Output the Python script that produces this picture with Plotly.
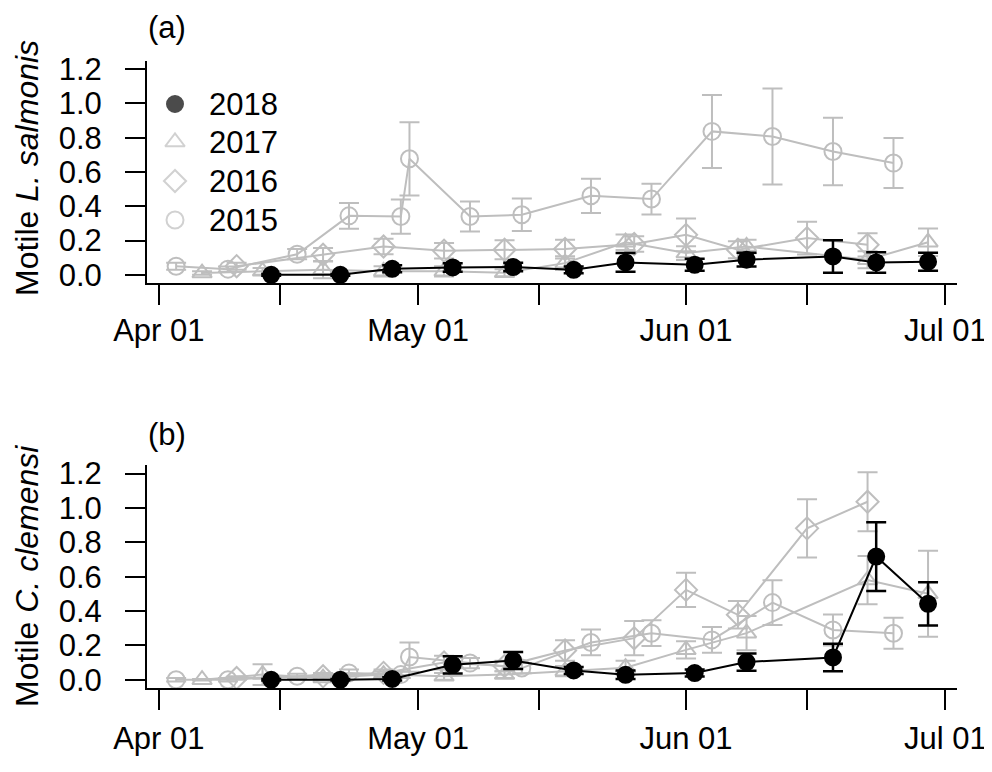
import plotly.graph_objects as go

# ---------------- data ----------------
# dates are month-day of each sampling event (all years mapped to one season axis)
dates_2018 = ["04-14", "04-22", "04-28", "05-05", "05-12", "05-19", "05-25", "06-02", "06-08", "06-18", "06-23", "06-29"]
dates_2017 = ["04-06", "04-13", "04-20", "04-27", "05-04", "05-11", "05-18", "05-25", "06-01", "06-08", "06-22", "06-29"]
dates_2016 = ["04-10", "04-20", "04-27", "05-04", "05-11", "05-18", "05-26", "06-01", "06-07", "06-15", "06-22"]
dates_2015 = ["04-03", "04-09", "04-17", "04-23", "04-29", "04-30", "05-07", "05-13", "05-21", "05-28", "06-04", "06-11", "06-18", "06-25"]

# (a) motile L. salmonis
ls_2018 = [0.00, 0.00, 0.035, 0.043, 0.045, 0.029, 0.072, 0.058, 0.088, 0.107, 0.072, 0.076]
ls_2018_se = [0.005, 0.005, 0.02, 0.025, 0.025, 0.02, 0.055, 0.035, 0.04, 0.095, 0.06, 0.053]
ls_2017 = [0.01, 0.02, 0.03, 0.02, 0.02, 0.012, 0.068, 0.19, 0.127, 0.165, 0.088, 0.19]
ls_2017_se = [0.01, 0.02, 0.05, 0.03, 0.03, 0.02, 0.04, 0.045, 0.04, 0.04, 0.05, 0.08]
ls_2016 = [0.05, 0.117, 0.165, 0.14, 0.146, 0.15, 0.18, 0.233, 0.146, 0.214, 0.175]
ls_2016_se = [0.02, 0.04, 0.045, 0.045, 0.055, 0.055, 0.045, 0.095, 0.05, 0.095, 0.068]
ls_2015 = [0.05, 0.033, 0.12, 0.344, 0.34, 0.677, 0.34, 0.35, 0.461, 0.442, 0.837, 0.807, 0.72, 0.652]
ls_2015_se = [0.02, 0.015, 0.03, 0.075, 0.1, 0.214, 0.088, 0.095, 0.1, 0.09, 0.213, 0.28, 0.197, 0.146]

# (b) motile C. clemensi
cc_2018 = [0.0, 0.0, 0.005, 0.087, 0.112, 0.054, 0.029, 0.039, 0.103, 0.13, 0.717, 0.442]
cc_2018_se = [0.005, 0.005, 0.01, 0.05, 0.05, 0.02, 0.025, 0.02, 0.05, 0.08, 0.2, 0.126]
cc_2017 = [0.0, 0.03, 0.01, 0.03, 0.02, 0.03, 0.05, 0.07, 0.174, 0.271, 0.58, 0.5]
cc_2017_se = [0.005, 0.06, 0.01, 0.02, 0.02, 0.02, 0.03, 0.04, 0.05, 0.1, 0.14, 0.25]
cc_2016 = [0.01, 0.02, 0.04, 0.1, 0.08, 0.17, 0.242, 0.523, 0.378, 0.881, 1.036]
cc_2016_se = [0.01, 0.02, 0.02, 0.04, 0.03, 0.06, 0.1, 0.1, 0.08, 0.17, 0.172]
cc_2015 = [0.0, 0.0, 0.02, 0.04, 0.03, 0.132, 0.097, 0.068, 0.217, 0.271, 0.232, 0.449, 0.29, 0.271]
cc_2015_se = [0.01, 0.01, 0.015, 0.02, 0.02, 0.085, 0.03, 0.03, 0.075, 0.075, 0.075, 0.13, 0.09, 0.09]

tick_dates = ["04-01", "04-15", "05-01", "05-15", "06-01", "06-15", "07-01"]
tick_text = ["Apr 01", "", "May 01", "", "Jun 01", "", "Jul 01"]
y_ticks = [0.0, 0.2, 0.4, 0.6, 0.8, 1.0, 1.2]
legend_years = ["2018", "2017", "2016", "2015"]

# ---------------- style ----------------
OFF = 8                      # the page body margin shifts the figure by 8 px
W, H = 992 - OFF, 772 - OFF
GRAY = "#BEBEBE"
FONT = "Liberation Sans, Arial, sans-serif"
FS = 31

def px_x(x):
    return (x - OFF) / W

def px_y(y):
    return 1 - (y - OFF) / H

def season(md_list):
    return ["2018-" + md for md in md_list]

styles = {
    "2018": dict(color="black", symbol="circle", fill="black"),
    "2017": dict(color=GRAY, symbol="triangle-up-open", fill=GRAY),
    "2016": dict(color=GRAY, symbol="diamond-open", fill=GRAY),
    "2015": dict(color=GRAY, symbol="circle-open", fill=GRAY),
}
sizes = {"2018": 16, "2017": 17, "2016": 17, "2015": 17}

fig = go.Figure()

def add_series(year, dates, vals, se, xa, ya):
    st = styles[year]
    fig.add_trace(go.Scatter(
        x=season(dates), y=vals, xaxis=xa, yaxis=ya, mode="lines+markers",
        line=dict(color=st["color"], width=2),
        marker=dict(symbol=st["symbol"], size=sizes[year], color=st["fill"],
                    line=dict(color=st["color"], width=2)),
        error_y=dict(type="data", array=se, visible=True, color=st["color"],
                     thickness=2 if year != "2018" else 2.5, width=10),
        showlegend=False, hoverinfo="skip",
    ))

panels = [
    ("x", "y", [("2015", dates_2015, ls_2015, ls_2015_se), ("2016", dates_2016, ls_2016, ls_2016_se),
                ("2017", dates_2017, ls_2017, ls_2017_se), ("2018", dates_2018, ls_2018, ls_2018_se)]),
    ("x2", "y2", [("2015", dates_2015, cc_2015, cc_2015_se), ("2016", dates_2016, cc_2016, cc_2016_se),
                  ("2017", dates_2017, cc_2017, cc_2017_se), ("2018", dates_2018, cc_2018, cc_2018_se)]),
]
for xa, ya, series in panels:
    for year, dts, vals, se in series:
        add_series(year, dts, vals, se, xa, ya)

# legend markers on a pixel-coordinate overlay axis
leg_y = [104, 142, 181, 220]
fig.add_trace(go.Scatter(
    x=[175] * 4, y=leg_y, xaxis="x3", yaxis="y3", mode="markers",
    marker=dict(symbol=[styles[y]["symbol"] for y in legend_years],
                size=[sizes[y] for y in legend_years],
                color=[styles[y]["fill"] for y in legend_years],
                line=dict(color=[styles[y]["color"] for y in legend_years], width=2)),
    showlegend=False, hoverinfo="skip",
))

x_dom = [px_x(147), px_x(957)]
xrange = ["2018-03-30 15:07", "2018-07-02 08:24"]
yrange = [-0.048, 1.248]

def xaxis(anchor, standoff):
    return dict(domain=x_dom, range=xrange, type="date", anchor=anchor, automargin=False,
                tickvals=season(tick_dates), ticktext=tick_text,
                ticks="outside", ticklen=20, tickwidth=2, tickcolor="black",
                showline=True, linecolor="black", linewidth=2,
                showgrid=False, zeroline=False, ticklabelstandoff=standoff,
                tickfont=dict(family=FONT, size=FS, color="black"))

def yaxis(anchor, dom, standoff):
    return dict(domain=dom, range=yrange, anchor=anchor, automargin=False,
                tickvals=y_ticks, ticktext=[f"{v:.1f}" for v in y_ticks],
                ticks="outside", ticklen=20, tickwidth=2, tickcolor="black",
                showline=True, linecolor="black", linewidth=2,
                showgrid=False, zeroline=False, ticklabelstandoff=standoff,
                tickfont=dict(family=FONT, size=FS, color="black"))

def ann(text, x, y, size=FS, **kw):
    d = dict(text=text, x=px_x(x), y=px_y(y), xref="paper", yref="paper", showarrow=False,
             xanchor="center", yanchor="middle", font=dict(family=FONT, size=size, color="black"))
    d.update(kw)
    return d

annotations = [
    ann("(a)", 167, 27),
    ann("(b)", 167, 434),
    ann("Motile <i>L. salmonis</i>", 27, 168, size=32, textangle=-90),
    ann("Motile <i>C. clemensi</i>", 27, 576, size=32, textangle=-90),
]
for yr, ly in zip(legend_years, leg_y):
    annotations.append(ann(yr, 207, ly, xanchor="left"))

fig.update_layout(
    template="none",
    width=W, height=H, margin=dict(l=0, r=0, t=0, b=0, pad=0),
    paper_bgcolor="white", plot_bgcolor="rgba(0,0,0,0)",
    xaxis=xaxis("y", -1),
    yaxis=yaxis("x", [px_y(283), px_y(61)], 17),
    xaxis2=xaxis("y2", 2),
    yaxis2=yaxis("x2", [px_y(688), px_y(465.3)], 17),
    xaxis3=dict(domain=[0, 1], range=[OFF, OFF + W], visible=False, anchor="y3", automargin=False),
    yaxis3=dict(domain=[0, 1], range=[OFF + H, OFF], visible=False, anchor="x3", automargin=False),
    annotations=annotations,
    showlegend=False,
)

fig.write_html("out.html")
